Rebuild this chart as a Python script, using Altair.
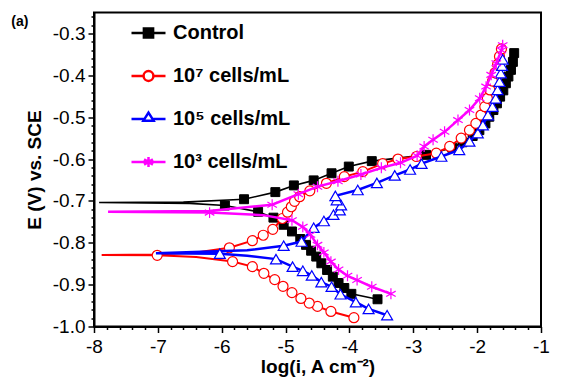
import altair as alt
import pandas as pd

series_names = ["Control", "10⁷ cells/mL", "10⁵ cells/mL", "10³ cells/mL"]
series_colors = ["#000000", "#FF0000", "#0000FF", "#FF00FF"]
legend_fills = ["#000000", "#FFFFFF", "#FFFFFF", "#FF00FF"]

# Control (black squares): path from cathodic end -> Ecorr -> anodic end
ctrl_x = [-3.56, -3.97, -4.08, -4.17, -4.26, -4.35, -4.44, -4.52, -4.60, -4.68, -4.77, -4.90, -5.03,
          -5.19, -5.43, -5.95, -6.5, -7.92, -6.6, -5.65, -5.16, -4.87, -4.56, -4.28, -4.01, -3.65,
          -2.80, -2.39, -2.23, -2.07, -1.965, -1.87, -1.81, -1.745, -1.69, -1.64, -1.59, -1.55,
          -1.51, -1.47, -1.44, -1.42]
ctrl_y = [-0.935, -0.922, -0.908, -0.896, -0.881, -0.865, -0.849, -0.833, -0.819, -0.805, -0.791,
          -0.773, -0.757, -0.740, -0.726, -0.711, -0.706, -0.704, -0.703, -0.696, -0.679, -0.663,
          -0.651, -0.634, -0.618, -0.605, -0.590, -0.573, -0.560, -0.545, -0.531, -0.515, -0.499,
          -0.483, -0.467, -0.451, -0.436, -0.419, -0.403, -0.387, -0.368, -0.347]
ctrl_m = [1] * 16 + [0, 0, 0] + [1] * 23

# 10^7 cells/mL (red circles)
r7_x = [-3.93, -4.29, -4.50, -4.63, -4.76, -4.90, -5.04, -5.17, -5.34, -5.52, -5.83, -6.4, -7.01,
        -7.88, -7.0, -6.4, -5.88, -5.52, -5.35, -5.20, -5.05, -4.97, -4.91, -4.86, -4.78, -4.62,
        -4.36, -4.08, -3.79, -3.48, -3.24, -2.95, -2.64, -2.43, -2.25, -2.12, -2.02, -1.94, -1.88,
        -1.84, -1.80, -1.76, -1.72, -1.68, -1.65, -1.62]
r7_y = [-0.979, -0.964, -0.952, -0.944, -0.933, -0.919, -0.904, -0.888, -0.873, -0.857, -0.845,
        -0.834, -0.830, -0.829, -0.828, -0.823, -0.812, -0.795, -0.782, -0.768, -0.742, -0.727,
        -0.714, -0.701, -0.690, -0.676, -0.658, -0.642, -0.630, -0.611, -0.600, -0.594, -0.586,
        -0.570, -0.550, -0.531, -0.515, -0.495, -0.475, -0.455, -0.435, -0.414, -0.394, -0.374,
        -0.355, -0.337]
r7_m = [1] * 11 + [0, 1, 0, 0, 0] + [1] * 30

# 10^5 cells/mL (blue triangles)
r5_x = [-3.41, -3.70, -3.90, -4.14, -4.28, -4.44, -4.59, -4.73, -4.89, -5.15, -5.6, -6.03, -7.03,
        -5.6, -5.03, -4.75, -4.56, -4.40, -4.25, -4.15, -4.13, -4.20, -4.22, -3.87, -3.57, -3.29,
        -3.05, -2.87, -2.56, -2.28, -2.12, -1.99, -1.91, -1.83, -1.76, -1.71, -1.68, -1.65, -1.63,
        -1.61, -1.60]
r5_y = [-0.973, -0.958, -0.942, -0.923, -0.905, -0.894, -0.878, -0.867, -0.857, -0.839, -0.831,
        -0.826, -0.825, -0.818, -0.807, -0.797, -0.764, -0.748, -0.733, -0.722, -0.710, -0.698,
        -0.688, -0.674, -0.657, -0.639, -0.625, -0.611, -0.594, -0.578, -0.558, -0.538, -0.519,
        -0.495, -0.475, -0.455, -0.435, -0.415, -0.395, -0.377, -0.362]
r5_m = [1] * 10 + [0, 1, 0, 0] + [1] * 27

# 10^3 cells/mL (magenta stars)
r3_x = [-3.35, -3.65, -3.88, -4.03, -4.17, -4.29, -4.40, -4.50, -4.61, -4.73, -4.90, -5.35, -6.19,
        -7.78, -6.2, -5.21, -4.80, -4.50, -4.18, -3.82, -3.50, -3.20, -2.94, -2.83, -2.69, -2.51,
        -2.30, -2.12, -1.96, -1.86, -1.78, -1.70, -1.62, -1.60]
r3_y = [-0.922, -0.905, -0.889, -0.879, -0.864, -0.845, -0.823, -0.805, -0.781, -0.762, -0.746,
        -0.734, -0.728, -0.726, -0.724, -0.709, -0.684, -0.666, -0.653, -0.637, -0.621, -0.609,
        -0.592, -0.570, -0.554, -0.535, -0.507, -0.483, -0.455, -0.427, -0.399, -0.371, -0.340,
        -0.328]
r3_m = [1] * 11 + [0, 1, 0, 0] + [1] * 19

x_ticks = [round(-8 + 0.2 * i, 1) for i in range(36)]
y_ticks = [round(-1.0 + 0.02 * i, 2) for i in range(38)]

all_x = [ctrl_x, r7_x, r5_x, r3_x]
all_y = [ctrl_y, r7_y, r5_y, r3_y]
all_m = [ctrl_m, r7_m, r5_m, r3_m]

rows = []
for name, xs, ys, ms in zip(series_names, all_x, all_y, all_m):
    for i, (a, b, m) in enumerate(zip(xs, ys, ms)):
        rows.append({"series": name, "idx": i, "logi": a, "E": b, "marker": m})
df = pd.DataFrame(rows)

FONT = "Liberation Sans"

x_enc = alt.X(
    "logi:Q",
    scale=alt.Scale(domain=[-8, -1], nice=False, zero=False),
    axis=alt.Axis(
        values=x_ticks,
        labelExpr="abs(datum.value - round(datum.value)) < 0.001 ? replace(format(datum.value, 'd'), '\u2212', '-') : ''",
        tickSize={"condition": {"test": "abs(datum.value - round(datum.value)) < 0.001", "value": 6}, "value": 3},
        title="log(i, A cm⁻²)",
        titlePadding=1,
        labelPadding=5,
        labelFlush=False,
        labelOverlap=False,
    ),
)
y_enc = alt.Y(
    "E:Q",
    scale=alt.Scale(domain=[-1.0, -0.25], nice=False, zero=False),
    axis=alt.Axis(
        values=y_ticks,
        labelExpr="abs(datum.value * 10 - round(datum.value * 10)) < 0.001 ? replace(format(datum.value, '.1f'), '\u2212', '-') : ''",
        tickSize={"condition": {"test": "abs(datum.value * 10 - round(datum.value * 10)) < 0.001", "value": 6}, "value": 3},
        title="E (V) vs. SCE",
        titlePadding=8,
        labelPadding=3,
        labelFlush=False,
        labelOverlap=False,
    ),
)

star_path = "M0,-1V1M-0.87,-0.5L0.87,0.5M-0.87,0.5L0.87,-0.5"
marker_specs = [
    dict(shape="square", fill="#000000", stroke="#000000", size=80, strokeWidth=1),
    dict(shape="circle", fill="#FFFFFF", stroke="#FF0000", size=100, strokeWidth=1.2),
    dict(shape="triangle-up", fill="#FFFFFF", stroke="#0000FF", size=120, strokeWidth=1.2),
    dict(shape=star_path, fill="#FF00FF", stroke="#FF00FF", size=120, strokeWidth=1.2),
]
line_widths = [1.6, 2.0, 2.5, 2.5]

base = alt.Chart(df)
layers = []
for name, color, lw, spec in zip(series_names, series_colors, line_widths, marker_specs):
    line = base.transform_filter(alt.datum.series == name).mark_line(
        color=color, strokeWidth=lw
    ).encode(x=x_enc, y=y_enc, order=alt.Order("idx:Q"))
    pts = base.transform_filter(
        (alt.datum.series == name) & (alt.datum.marker == 1)
    ).mark_point(opacity=1, fillOpacity=1, **spec).encode(x=x_enc, y=y_enc)
    layers += [line, pts]

legend_paths = [
    "M-1,0H1M-0.27,-0.27H0.27V0.27H-0.27Z",
    "M-1,0H-0.29M0.29,0H1M0.29,0A0.29,0.29,0,1,1,-0.29,0A0.29,0.29,0,1,1,0.29,0Z",
    "M-1,0H-0.24M0.24,0H1M0,-0.38L0.3,0.1L-0.3,0.1Z",
    "M-1,0H1M0,-0.3V0.3M-0.26,-0.15L0.26,0.15M-0.26,0.15L0.26,-0.15",
]
leg = alt.Legend(
    title=None, orient="none", legendX=36, legendY=2, symbolSize=1156,
    symbolStrokeWidth=2.5, labelFontSize=20, labelFontWeight="bold", labelFont=FONT,
    labelColor="black", rowPadding=14, labelOffset=6, padding=0, labelLimit=300,
    symbolOpacity=1,
)
legend_layer = alt.Chart(pd.DataFrame({"series": series_names})).transform_filter(
    "false"
).mark_point(opacity=1).encode(
    shape=alt.Shape("series:N", scale=alt.Scale(domain=series_names, range=legend_paths), legend=leg),
    stroke=alt.Stroke("series:N", scale=alt.Scale(domain=series_names, range=series_colors), legend=leg),
    fill=alt.Fill("series:N", scale=alt.Scale(domain=series_names, range=legend_fills), legend=leg),
)
layers.append(legend_layer)

chart = alt.layer(*layers).properties(
    width=447, height=314,
    autosize=alt.AutoSizeParams(type="none"),
    padding={"left": 86, "top": 4.5, "right": 12, "bottom": 50},
    title=alt.TitleParams("(a)", anchor="start", frame="bounds", fontSize=14, fontWeight="bold",
                          font=FONT, color="black", dy=21, offset=0, dx=-14),
).configure_axis(
    grid=False, domainColor="black", domainWidth=2, tickColor="black", tickWidth=1.5,
    labelFont=FONT, labelFontSize=19, labelColor="black",
    titleFont=FONT, titleFontSize=19, titleFontWeight="bold", titleColor="black",
).configure_view(stroke="black", strokeWidth=2)

chart.save("out.html", embed_options={"renderer": "svg", "actions": False})
